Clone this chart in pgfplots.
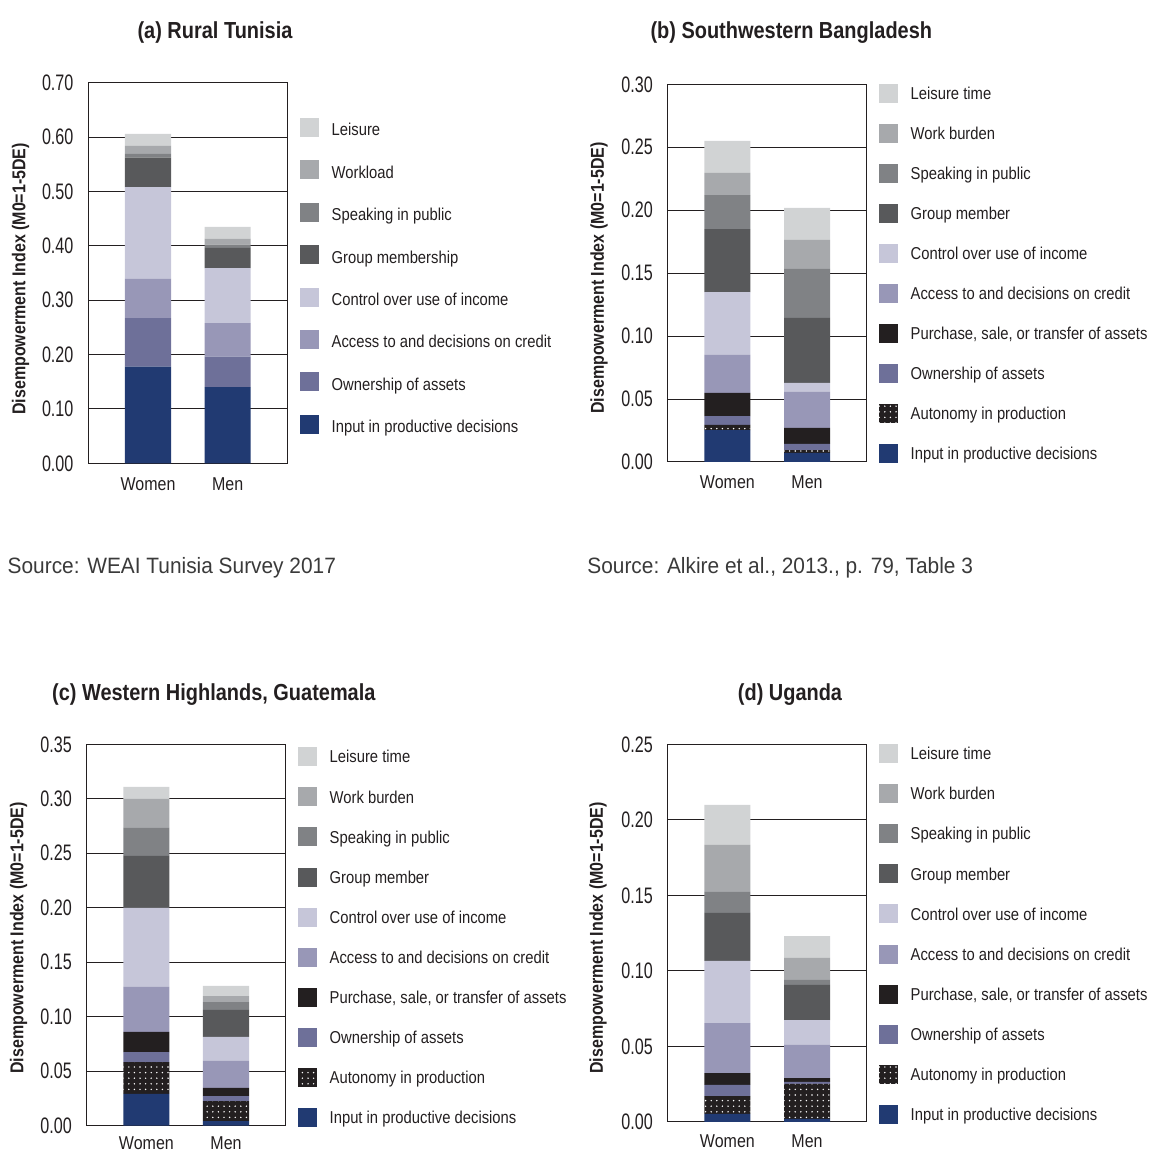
\documentclass[border=0pt]{standalone}
\usepackage{fontspec}
\setmainfont{Liberation Sans}[FakeStretch=0.86]
\newfontfamily\tickfont{Liberation Sans}[FakeStretch=0.72]
\newfontfamily\srcfont{Liberation Sans}[FakeStretch=0.94]
\usepackage{pgfplots}
\pgfplotsset{compat=1.18}
\usepackage{pgfplotstable}
\usetikzlibrary{patterns.meta}

\definecolor{cblack}{HTML}{231F20}
\definecolor{cinp}{HTML}{213A72}
\definecolor{cown}{HTML}{6E7099}
\definecolor{ccred}{HTML}{9897B7}
\definecolor{cctrl}{HTML}{C6C6D9}
\definecolor{cgrp}{HTML}{58595B}
\definecolor{cspk}{HTML}{808285}
\definecolor{cwork}{HTML}{A7A9AC}
\definecolor{cleis}{HTML}{D1D3D4}
\definecolor{cpur}{HTML}{231F20}
\definecolor{csrc}{HTML}{3A3A3A}

\pgfplotstableread{
x inp own cred ctrl grp spk work leis
0 0.178 0.089 0.072 0.169 0.054 0.007 0.015 0.022
1 0.140 0.056 0.062 0.101 0.037 0.006 0.011 0.022
}\tabA
\pgfplotstableread{
x inp auto own pur cred ctrl grp spk work leis
0 0.0254 0.0040 0.0071 0.0183 0.0302 0.0500 0.0500 0.0270 0.0176 0.0254
1 0.0072 0.0023 0.0048 0.0127 0.0286 0.0072 0.0516 0.0389 0.0231 0.0254
}\tabB
\pgfplotstableread{
x inp auto own pur cred ctrl grp spk work leis
0 0.0291 0.0293 0.0092 0.0184 0.0413 0.0725 0.0478 0.0257 0.0266 0.0111
1 0.0043 0.0183 0.0046 0.0074 0.0248 0.0220 0.0248 0.0073 0.0055 0.0092
}\tabC
\pgfplotstableread{
x inp auto own pur cred ctrl grp spk work leis
0 0.0053 0.0119 0.0073 0.0079 0.0331 0.0411 0.0318 0.0139 0.0311 0.0265
1 0.0020 0.0232 0.0013 0.0026 0.0219 0.0165 0.0232 0.0033 0.0146 0.0145
}\tabD

\pgfplotsset{
  sqlegend/.style={legend image code/.code={\path[##1,draw=none] (0pt,-4.75pt) rectangle (9.5pt,4.75pt);}},
  pinp/.style={fill=cinp,draw=none},
  pauto/.style={fill=cpur,draw=none,postaction={pattern={Dots[radius=0.4pt,distance=2.8pt]},pattern color=white}},
  pown/.style={fill=cown,draw=none},
  ppur/.style={fill=cpur,draw=none},
  pcred/.style={fill=ccred,draw=none},
  pctrl/.style={fill=cctrl,draw=none},
  pgrp/.style={fill=cgrp,draw=none},
  pspk/.style={fill=cspk,draw=none},
  pwork/.style={fill=cwork,draw=none},
  pleis/.style={fill=cleis,draw=none},
  panel/.style={
    scale only axis, width=99.5pt,
    ybar stacked, bar width=0.578,
    xmin=-0.75, xmax=1.75, ymin=0, enlargelimits=false,
    xtick={0,1}, xticklabels={Women,Men},
    major tick length=0pt,
    ymajorgrids, grid style={draw=cblack,line width=0.5pt},
    axis line style={draw=cblack,line width=0.5pt},
    /pgf/number format/assume math mode=true,
    yticklabel style={font=\tickfont\fontsize{11.2}{12}\selectfont, text=cblack, anchor=east, inner sep=0pt, xshift=-7.25pt,
      /pgf/number format/fixed, /pgf/number format/fixed zerofill, /pgf/number format/precision=2},
    xticklabel style={font=\fontsize{9.3}{11}\selectfont, text=cblack, anchor=north, inner sep=0pt, yshift=-6.85pt},
    reverse legend,
    legend style={draw=none, fill=none, inner sep=0pt, outer sep=0pt, anchor=north west,
      font=\fontsize{8.6}{10}\selectfont, text=cblack, column sep=6.35pt,
      cells={anchor=west},
      nodes={inner sep=0pt, text height=6.2pt, text depth=0pt, anchor=west}},
    sqlegend,
    every axis plot/.append style={sqlegend},
  }
}

\begin{document}
\begin{tikzpicture}
\tikzset{ttl/.style={font=\bfseries\fontsize{11.6}{13}\selectfont, text=cblack, anchor=base, inner sep=0pt},
         ylab/.style={font=\bfseries\fontsize{9.3}{11}\selectfont, text=cblack, rotate=90, anchor=center, inner sep=0pt},
         src/.style={font=\srcfont\fontsize{11.1}{13}\selectfont, text=csrc, anchor=base west, inner sep=0pt}}

% (a)
\begin{axis}[panel, at={(44.15pt,343.85pt)}, anchor=south west, height=190.3pt,
  ymax=0.7, ytick={0,0.1,0.2,0.3,0.4,0.5,0.6,0.7},
  legend style={at={(1.0638,0.9073)}, row sep=11.7pt, nodes={text height=8.4pt}}]
\addplot[pinp] table[x=x,y=inp]{\tabA}; \addlegendentry{Input in productive decisions}
\addplot[pown] table[x=x,y=own]{\tabA}; \addlegendentry{Ownership of assets}
\addplot[pcred] table[x=x,y=cred]{\tabA}; \addlegendentry{Access to and decisions on credit}
\addplot[pctrl] table[x=x,y=ctrl]{\tabA}; \addlegendentry{Control over use of income}
\addplot[pgrp] table[x=x,y=grp]{\tabA}; \addlegendentry{Group membership}
\addplot[pspk] table[x=x,y=spk]{\tabA}; \addlegendentry{Speaking in public}
\addplot[pwork] table[x=x,y=work]{\tabA}; \addlegendentry{Workload}
\addplot[pleis] table[x=x,y=leis]{\tabA}; \addlegendentry{Leisure}
\end{axis}

% (b)
\begin{axis}[panel, at={(333.85pt,344.5pt)}, anchor=south west, height=188.85pt,
  ymax=0.3, ytick={0,0.05,0.1,0.15,0.2,0.25,0.3},
  legend style={at={(1.0618,1.0021)}, row sep=10.5pt}]
\addplot[pinp] table[x=x,y=inp]{\tabB}; \addlegendentry{Input in productive decisions}
\addplot[pauto] table[x=x,y=auto]{\tabB}; \addlegendentry{Autonomy in production}
\addplot[pown] table[x=x,y=own]{\tabB}; \addlegendentry{Ownership of assets}
\addplot[ppur] table[x=x,y=pur]{\tabB}; \addlegendentry{Purchase, sale, or transfer of assets}
\addplot[pcred] table[x=x,y=cred]{\tabB}; \addlegendentry{Access to and decisions on credit}
\addplot[pctrl] table[x=x,y=ctrl]{\tabB}; \addlegendentry{Control over use of income}
\addplot[pgrp] table[x=x,y=grp]{\tabB}; \addlegendentry{Group member}
\addplot[pspk] table[x=x,y=spk]{\tabB}; \addlegendentry{Speaking in public}
\addplot[pwork] table[x=x,y=work]{\tabB}; \addlegendentry{Work burden}
\addplot[pleis] table[x=x,y=leis]{\tabB}; \addlegendentry{Leisure time}
\end{axis}

% (c)
\begin{axis}[panel, at={(43.35pt,12.65pt)}, anchor=south west, height=190.7pt,
  ymax=0.35, ytick={0,0.05,0.1,0.15,0.2,0.25,0.3,0.35},
  xticklabel style={yshift=1.4pt},
  legend style={at={(1.0618,0.9924)}, row sep=10.55pt}]
\addplot[pinp] table[x=x,y=inp]{\tabC}; \addlegendentry{Input in productive decisions}
\addplot[pauto] table[x=x,y=auto]{\tabC}; \addlegendentry{Autonomy in production}
\addplot[pown] table[x=x,y=own]{\tabC}; \addlegendentry{Ownership of assets}
\addplot[ppur] table[x=x,y=pur]{\tabC}; \addlegendentry{Purchase, sale, or transfer of assets}
\addplot[pcred] table[x=x,y=cred]{\tabC}; \addlegendentry{Access to and decisions on credit}
\addplot[pctrl] table[x=x,y=ctrl]{\tabC}; \addlegendentry{Control over use of income}
\addplot[pgrp] table[x=x,y=grp]{\tabC}; \addlegendentry{Group member}
\addplot[pspk] table[x=x,y=spk]{\tabC}; \addlegendentry{Speaking in public}
\addplot[pwork] table[x=x,y=work]{\tabC}; \addlegendentry{Work burden}
\addplot[pleis] table[x=x,y=leis]{\tabC}; \addlegendentry{Leisure time}
\end{axis}

% (d)
\begin{axis}[panel, at={(333.85pt,14.5pt)}, anchor=south west, height=188.85pt,
  ymax=0.25, ytick={0,0.05,0.1,0.15,0.2,0.25},
  xticklabel style={yshift=0.6pt},
  legend style={at={(1.0618,1.0008)}, row sep=10.55pt}]
\addplot[pinp] table[x=x,y=inp]{\tabD}; \addlegendentry{Input in productive decisions}
\addplot[pauto] table[x=x,y=auto]{\tabD}; \addlegendentry{Autonomy in production}
\addplot[pown] table[x=x,y=own]{\tabD}; \addlegendentry{Ownership of assets}
\addplot[ppur] table[x=x,y=pur]{\tabD}; \addlegendentry{Purchase, sale, or transfer of assets}
\addplot[pcred] table[x=x,y=cred]{\tabD}; \addlegendentry{Access to and decisions on credit}
\addplot[pctrl] table[x=x,y=ctrl]{\tabD}; \addlegendentry{Control over use of income}
\addplot[pgrp] table[x=x,y=grp]{\tabD}; \addlegendentry{Group member}
\addplot[pspk] table[x=x,y=spk]{\tabD}; \addlegendentry{Speaking in public}
\addplot[pwork] table[x=x,y=work]{\tabD}; \addlegendentry{Work burden}
\addplot[pleis] table[x=x,y=leis]{\tabD}; \addlegendentry{Leisure time}
\end{axis}

% titles
\node[ttl] at (107.5pt,556.35pt) {(a) Rural Tunisia};
\node[ttl] at (395.65pt,556.35pt) {(b) Southwestern Bangladesh};
\node[ttl] at (106.9pt,225.3pt) {(c) Western Highlands, Guatemala};
\node[ttl] at (395pt,225.3pt) {(d) Uganda};
% y labels
\node[ylab] at (10.25pt,436.1pt) {Disempowerment Index (M0=1-5DE)};
\node[ylab] at (299.5pt,436.5pt) {Disempowerment Index (M0=1-5DE)};
\node[ylab] at (9.25pt,106.5pt) {Disempowerment Index (M0=1-5DE)};
\node[ylab] at (299pt,106.5pt) {Disempowerment Index (M0=1-5DE)};
% sources
\node[src] at (3.65pt,288.85pt) {Source: WEAI Tunisia Survey 2017};
\node[src] at (293.5pt,288.85pt) {Source: Alkire et al., 2013., p. 79, Table 3};

\pgfresetboundingbox
\path[use as bounding box] (0pt,0pt) rectangle (574.5pt,575.5pt);
\end{tikzpicture}
\end{document}
